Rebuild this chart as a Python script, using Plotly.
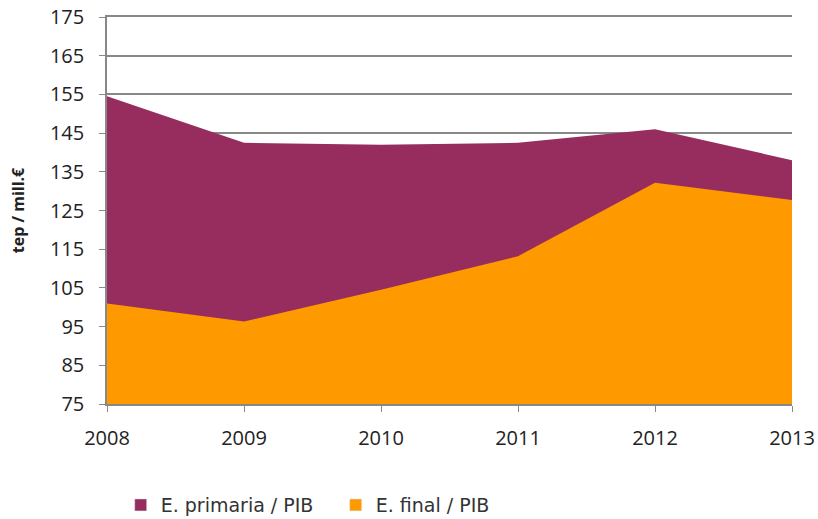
import plotly.graph_objects as go

years = ["2008", "2009", "2010", "2011", "2012", "2013"]
primaria = [154.5, 142.5, 142.0, 142.5, 146.0, 138.0]
final = [101.0, 96.3, 104.5, 113.2, 132.2, 127.7]
y_ticks = [75, 85, 95, 105, 115, 125, 135, 145, 155, 165, 175]
names = ["E. primaria / PIB", "E. final / PIB"]
colors = ["#962D5E", "#FF9900"]

fig = go.Figure()
for vals, name, col in zip([primaria, final], names, colors):
    fig.add_trace(go.Scatter(x=years, y=vals, name=name, mode="lines",
                             fill="tozeroy", line=dict(width=0, color=col),
                             fillcolor=col, showlegend=False))
# legend entries as square swatches
for name, col in zip(names, colors):
    fig.add_trace(go.Bar(x=[None], y=[None], name=name, marker=dict(color=col),
                         showlegend=True))

fig.update_layout(
    width=818, height=519,
    margin=dict(l=107, r=26, t=17, b=115, autoexpand=False),
    paper_bgcolor="white", plot_bgcolor="white",
    font=dict(family="Open Sans, Liberation Sans, sans-serif", size=20, color="#222"),
    showlegend=True,
    legend=dict(orientation="h", x=0.02, y=-0.212, xanchor="left", yanchor="top",
                font=dict(family="DejaVu Sans, Verdana, sans-serif", size=19, color="#333"),
                traceorder="normal", itemwidth=30, tracegroupgap=0,
                entrywidth=170, entrywidthmode="pixels"),
    xaxis=dict(type="category", range=[0, 5], showgrid=False, showline=True,
               mirror=True,
               linecolor="#888", linewidth=1.5, ticks="outside", ticklen=6,
               tickcolor="#888", zeroline=False, automargin=False,
               ticklabelstandoff=9, ticklabeloverflow="allow"),
    yaxis=dict(range=[75, 175], tickvals=y_ticks, showgrid=True, gridcolor="#888",
               gridwidth=1.5, showline=True, linecolor="#888", linewidth=1.5,
               ticks="outside", ticklen=6, tickcolor="#888", zeroline=False,
               automargin=False, ticklabelstandoff=11, ticklabeloverflow="allow",
               title=dict(text="<b>tep / mill.€</b>", font=dict(size=16), standoff=21)),
)

fig.write_html("out.html", config={"displayModeBar": False},
               post_script="document.body.style.margin='0';")
